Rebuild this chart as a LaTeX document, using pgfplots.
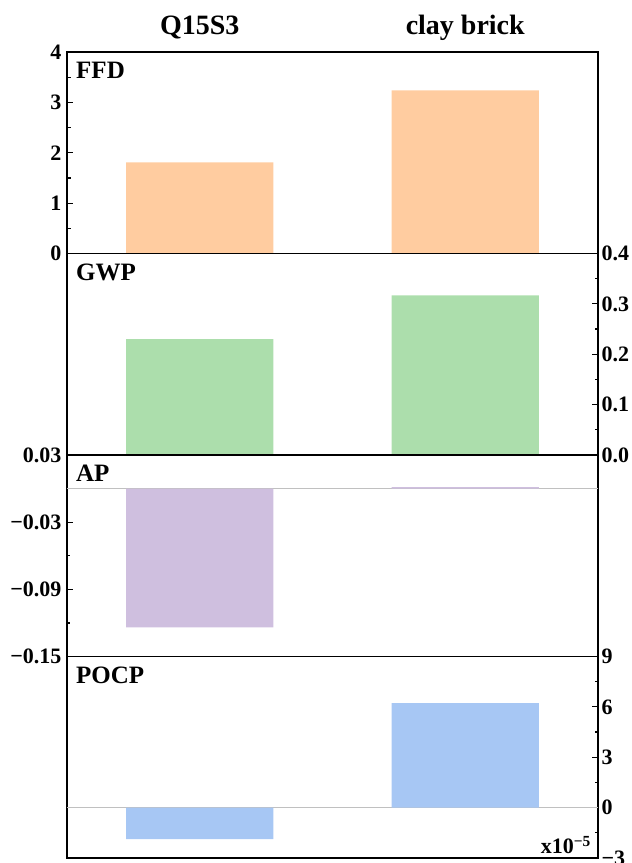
\documentclass[border=0pt]{standalone}
\usepackage{fontspec}
\setmainfont{Liberation Serif}
\usepackage{pgfplots}
\pgfplotsset{compat=1.18}
\definecolor{cffd}{HTML}{FFCCA0}
\definecolor{cgwp}{HTML}{ACDEAC}
\definecolor{cap}{HTML}{CFBFDF}
\definecolor{cpocp}{HTML}{A7C7F4}
\definecolor{zline}{HTML}{C0C0C0}
\newcommand{\tf}{\bfseries\fontsize{22}{22}\selectfont}
\newcommand{\pf}{\bfseries\fontsize{25}{25}\selectfont}
\pgfplotsset{
  panel/.style={
    scale only axis, width=531pt, height=201.5pt,
    xmin=0.5, xmax=2.5, xtick=\empty,
    axis line style={line width=1.4pt, black},
    every tick/.style={line width=1.2pt, black},
    major tick length=6pt, minor tick length=3.5pt,
    tick align=inside,
    yticklabel style={font=\tf},
    clip mode=individual,
  },
  leftlab/.style={ytick pos=left, yticklabel style={xshift=-2pt}},
  bars/.style={ybar, bar width=0.554, draw=none, fill=#1},
}
\begin{document}
\begin{tikzpicture}
\path[use as bounding box] (0,0) rectangle (632pt,863pt);
% FFD
\begin{axis}[panel, leftlab, at={(67pt,609.5pt)}, anchor=south west,
  ymin=0, ymax=4, ytick={0,1,2,3,4}, yticklabels={0,1,2,3,4},
  minor ytick={0.5,1.5,2.5,3.5}]
\addplot[bars=cffd] coordinates {(1,1.81) (2,3.24)};
\node[anchor=north west, inner sep=0, font=\pf, xshift=9pt, yshift=-10pt] at (rel axis cs:0,1) {FFD};
\node[anchor=base, inner sep=0, font=\bfseries\fontsize{28}{28}\selectfont, yshift=17pt] at (axis cs:1,4) {Q15S3};
\node[anchor=base, inner sep=0, font=\bfseries\fontsize{28}{28}\selectfont, yshift=17pt] at (axis cs:2,4) {clay brick};
\end{axis}
% GWP
\begin{axis}[panel, at={(67pt,408pt)}, anchor=south west,
  ymin=0, ymax=0.4, ytick={0,0.1,0.2,0.3,0.4}, yticklabels={0.0,0.1,0.2,0.3,0.4},
  minor ytick={0.05,0.15,0.25,0.35}, ytick pos=right, yticklabel pos=right]
\addplot[bars=cgwp] coordinates {(1,0.230) (2,0.317)};
\node[anchor=north west, inner sep=0, font=\pf, xshift=9pt, yshift=-10pt] at (rel axis cs:0,1) {GWP};
\end{axis}
% AP
\begin{axis}[panel, leftlab, at={(67pt,206.5pt)}, anchor=south west,
  ymin=-0.15, ymax=0.03, ytick={-0.15,-0.09,-0.03,0.03}, yticklabels={−0.15,−0.09,−0.03,0.03},
  minor ytick={-0.12,-0.06,0}]
\addplot[zline, line width=1.6pt, forget plot] coordinates {(0.5,0) (2.5,0)};
\addplot[bars=cap] coordinates {(1,-0.124) (2,0.0012)};
\node[anchor=north west, inner sep=0, font=\pf, xshift=9pt, yshift=-10pt] at (rel axis cs:0,1) {AP};
\end{axis}
% POCP
\begin{axis}[panel, at={(67pt,5pt)}, anchor=south west,
  ymin=-3, ymax=9, ytick={-3,0,3,6,9}, yticklabels={−3,0,3,6,9},
  minor ytick={-1.5,1.5,4.5,7.5}, ytick pos=right, yticklabel pos=right]
\addplot[zline, line width=1.6pt, forget plot] coordinates {(0.5,0) (2.5,0)};
\addplot[bars=cpocp] coordinates {(1,-1.87) (2,6.23)};
\node[anchor=north west, inner sep=0, font=\pf, xshift=9pt, yshift=-10pt] at (rel axis cs:0,1) {POCP};
\node[anchor=south east, inner sep=0, font=\bfseries\fontsize{22}{22}\selectfont, xshift=-7pt, yshift=4pt] at (rel axis cs:1,0) {x10\textsuperscript{−5}};
\end{axis}
\end{tikzpicture}
\end{document}
